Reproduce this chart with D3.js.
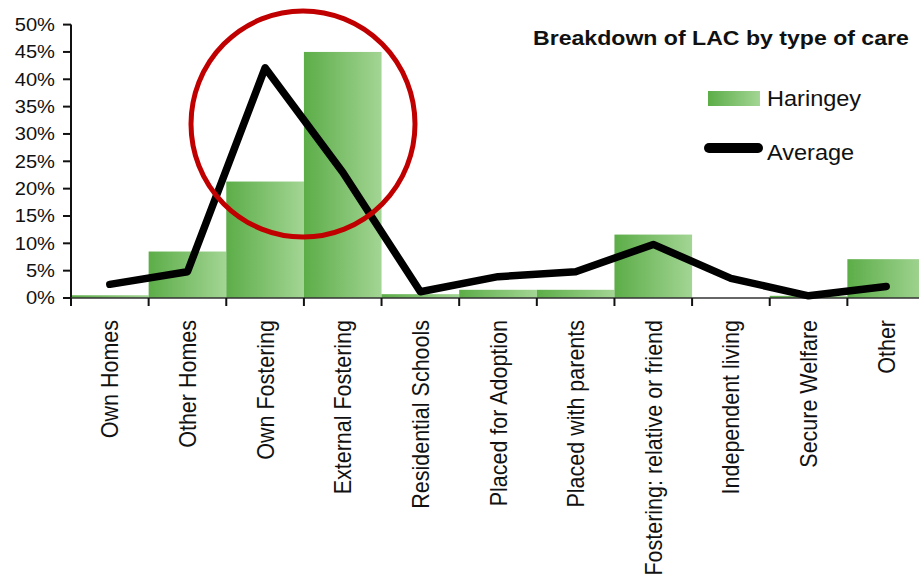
<!DOCTYPE html>
<html>
<head>
<meta charset="utf-8">
<script src="https://cdn.jsdelivr.net/npm/d3@7"></script>
<style>
  html, body { margin: 0; padding: 0; background: #fff; }
  svg { display: block; }
  text { font-family: "Liberation Sans", Arial, sans-serif; fill: #111; }
</style>
</head>
<body>
<svg id="chart" width="919" height="584"></svg>
<script>
const categories = ["Own Homes", "Other Homes", "Own Fostering", "External Fostering",
  "Residential Schools", "Placed for Adoption", "Placed with parents",
  "Fostering: relative or friend", "Independent living", "Secure Welfare", "Other"];
const haringey = [0.5, 8.5, 21.3, 45.0, 0.7, 1.5, 1.5, 11.6, 0.0, 0.4, 7.1];
const average  = [2.5, 4.8, 42.1, 23.0, 1.15, 3.9, 4.8, 9.8, 3.6, 0.4, 2.1];
const yTicks = [0, 5, 10, 15, 20, 25, 30, 35, 40, 45, 50];
const titleText = "Breakdown of LAC by type of care";
const seriesNames = ["Haringey", "Average"];

const svg = d3.select("#chart");

const x = d3.scaleBand().domain(categories).range([71, 925]).paddingInner(0).paddingOuter(0);
const y = d3.scaleLinear().domain([0, 50]).range([298, 24.6]);

// gradient
const defs = svg.append("defs");
const grad = defs.append("linearGradient").attr("id", "barGrad")
  .attr("x1", "0%").attr("x2", "100%").attr("y1", "0%").attr("y2", "0%");
grad.append("stop").attr("offset", "0%").attr("stop-color", "#5cad48");
grad.append("stop").attr("offset", "100%").attr("stop-color", "#a3d594");

// bars
svg.append("g").selectAll("rect").data(categories).join("rect")
  .attr("x", d => x(d))
  .attr("width", x.bandwidth())
  .attr("y", (d, i) => y(haringey[i]))
  .attr("height", (d, i) => y(0) - y(haringey[i]))
  .attr("fill", "url(#barGrad)");

// y axis
const yAxis = svg.append("g").attr("transform", "translate(71,0)");
yAxis.append("line").attr("x1", 0).attr("x2", 0).attr("y1", y(50)).attr("y2", 306)
  .attr("stroke", "#111").attr("stroke-width", 2);
yAxis.selectAll("line.t").data(yTicks).join("line").attr("class", "t")
  .attr("x1", -8).attr("x2", 0).attr("y1", d => y(d)).attr("y2", d => y(d))
  .attr("stroke", "#111").attr("stroke-width", 2);
svg.append("g").selectAll("text").data(yTicks).join("text")
  .attr("transform", d => `translate(55,${y(d)}) scale(1.15,1)`)
  .attr("dy", "0.36em")
  .attr("text-anchor", "end")
  .attr("font-size", 17.5)
  .text(d => d + "%");

// x axis
const xAxis = svg.append("g");
xAxis.append("line").attr("x1", 71).attr("x2", 925).attr("y1", y(0)).attr("y2", y(0))
  .attr("stroke", "#333").attr("stroke-width", 1.5);
xAxis.selectAll("line.t").data(categories).join("line").attr("class", "t")
  .attr("x1", d => x(d)).attr("x2", d => x(d)).attr("y1", y(0)).attr("y2", 306)
  .attr("stroke", "#111").attr("stroke-width", 2);
xAxis.selectAll("text").data(categories).join("text")
  .attr("transform", d => `translate(${x(d) + x.bandwidth() / 2 + 8.5},320) rotate(-90) scale(1,1.12)`)
  .attr("text-anchor", "end")
  .attr("font-size", 21.5)
  .text(d => d);

// line
const line = d3.line()
  .x((d, i) => x(categories[i]) + x.bandwidth() / 2)
  .y(d => y(d));
svg.append("path").datum(average)
  .attr("d", line)
  .attr("fill", "none")
  .attr("stroke", "#000")
  .attr("stroke-width", 7.5)
  .attr("stroke-linejoin", "round")
  .attr("stroke-linecap", "round");

// title
svg.append("text")
  .attr("transform", "translate(533,45) scale(1.1,1)")
  .attr("font-size", 21)
  .attr("font-weight", "bold")
  .text(titleText);

// legend
svg.append("rect").attr("x", 708).attr("y", 91).attr("width", 52).attr("height", 15)
  .attr("fill", "url(#barGrad)");
svg.append("text").attr("transform", "translate(767,106) scale(1.07,1)")
  .attr("font-size", 22).text(seriesNames[0]);
svg.append("line").attr("x1", 709).attr("x2", 758).attr("y1", 148).attr("y2", 148)
  .attr("stroke", "#000").attr("stroke-width", 10).attr("stroke-linecap", "round");
svg.append("text").attr("transform", "translate(767,160) scale(1.07,1)")
  .attr("font-size", 22).text(seriesNames[1]);

// red highlight circle
svg.append("ellipse").attr("cx", 303).attr("cy", 124).attr("rx", 112).attr("ry", 113)
  .attr("fill", "none").attr("stroke", "#c00000").attr("stroke-width", 5);
</script>
</body>
</html>
